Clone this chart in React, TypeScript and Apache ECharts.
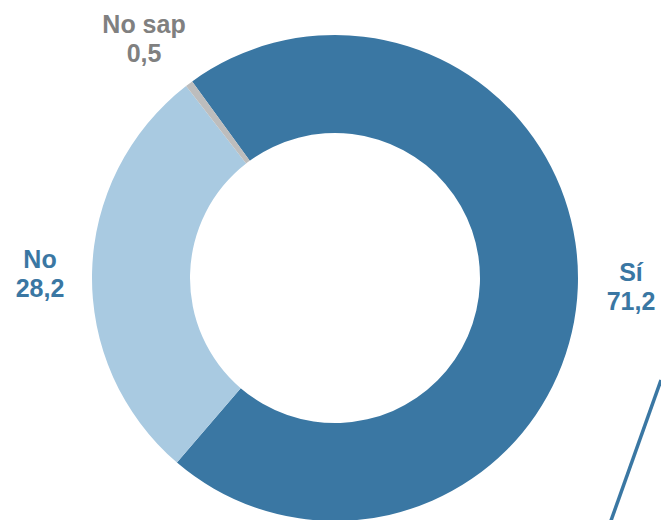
import React, { useEffect, useRef } from "react";
import * as echarts from "echarts";

const categories = ["Sí", "No", "No sap"];
const values = [71.2, 28.2, 0.5];
const sliceColors = ["#3a77a3", "#a9cae1", "#bdbdbd"];
const labelColors = ["#3a77a3", "#3a77a3", "#808080"];

export default function App() {
  const ref = useRef<HTMLDivElement>(null);
  useEffect(() => {
    if (!ref.current) return;
    const chart = echarts.init(ref.current, null, { renderer: "svg" });
    const labelPos = [
      { x: 631, y: 286 },
      { x: 40, y: 273 },
      { x: 144, y: 38 },
    ];
    chart.setOption({
      animation: false,
      backgroundColor: "#ffffff",
      series: [
        {
          type: "pie",
          center: [335, 278],
          radius: [145, 243],
          startAngle: 126,
          clockwise: true,
          avoidLabelOverlap: false,
          silent: true,
          data: categories.map((name, i) => ({
            name,
            value: values[i],
            itemStyle: { color: sliceColors[i], borderWidth: 0 },
            label: { color: labelColors[i] },
          })),
          label: {
            show: true,
            position: "outside",
            formatter: (p: any) =>
              p.name + "\n" + String(p.value).replace(".", ","),
            fontFamily: "Liberation Sans, Arial, sans-serif",
            fontWeight: "bold",
            fontSize: 25,
            lineHeight: 29,
            align: "center",
          },
          labelLine: { show: false },
          labelLayout: (params: any) => {
            const p = labelPos[params.dataIndex];
            return { x: p.x, y: p.y, align: "center", verticalAlign: "middle" };
          },
        },
      ],
      graphic: [
        {
          type: "line",
          shape: { x1: 661, y1: 380, x2: 610.5, y2: 522 },
          style: { stroke: "#3a77a3", lineWidth: 3.5 },
        },
      ],
    });
    return () => chart.dispose();
  }, []);
  return (
    <div
      ref={ref}
      style={{ position: "fixed", left: 0, top: 0, width: 661, height: 520 }}
    />
  );
}
